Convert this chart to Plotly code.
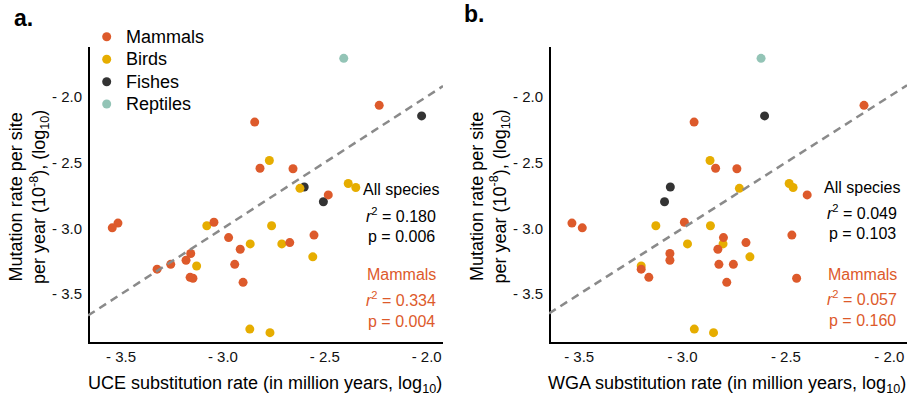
import plotly.graph_objects as go

# ---- data: log10 mutation rate per site per year and log10 substitution rates ----
mammal_mu = [-2.066, -2.193, -2.544, -2.547, -2.746, -2.954, -2.960, -2.996, -3.051, -3.070,
             -3.108, -3.159, -3.191, -3.242, -3.273, -3.273, -3.310, -3.372, -3.379, -3.410]
mammal_uce = [-2.233, -2.844, -2.818, -2.656, -2.483, -3.044, -3.515, -3.543, -2.553, -2.972,
              -2.672, -2.915, -3.158, -3.181, -3.256, -2.942, -3.323, -3.161, -3.147, -2.901]
mammal_wga = [-2.122, -2.944, -2.840, -2.737, -2.397, -2.991, -3.535, -3.485, -2.471, -2.802,
              -2.693, -2.829, -3.061, -3.061, -2.824, -2.754, -3.200, -3.163, -2.448, -2.786]

bird_mu = [-2.485, -2.696, -2.659, -2.690, -2.980, -2.980, -3.118, -3.118, -3.286, -3.765, -3.792, -3.216]
bird_uce = [-2.772, -2.622, -2.385, -2.348, -3.079, -2.761, -2.866, -2.711, -3.129, -2.868, -2.769, -2.559]
bird_wga = [-2.867, -2.725, -2.484, -2.465, -3.129, -2.865, -2.976, -2.804, -3.200, -2.943, -2.850, -2.674]

fish_mu = [-2.146, -2.686, -2.798]
fish_uce = [-2.025, -2.601, -2.507]
fish_wga = [-2.603, -3.059, -3.087]

reptile_mu = [-1.709]
reptile_uce = [-2.407]
reptile_wga = [-2.620]

groups = ["Mammals", "Birds", "Fishes", "Reptiles"]

# 1:1 reference line
ref_slope = 1.0
ref_intercept = 0.0

# statistics printed on each panel
stats_all = {"a": ("0.180", "0.006"), "b": ("0.049", "0.103")}
stats_mammals = {"a": ("0.334", "0.004"), "b": ("0.057", "0.160")}

tick_vals = [-3.5, -3.0, -2.5, -2.0]
tick_text = ["- 3.5", "- 3.0", "- 2.5", "- 2.0"]

# ---- styling ----
COLORS = {"Mammals": "#DD5A2B", "Birds": "#E6AD00", "Fishes": "#333333", "Reptiles": "#93C4B6"}
FONT = "Liberation Sans, Arial, sans-serif"
W, H = 914, 406
M_T, M_B = 47, 62
PLOT_H = H - M_T - M_B


def px_x(px):
    return px / W


def px_y(py):
    return (H - M_B - py) / PLOT_H


series = {
    "Mammals": (mammal_mu, mammal_uce, mammal_wga),
    "Birds": (bird_mu, bird_uce, bird_wga),
    "Fishes": (fish_mu, fish_uce, fish_wga),
    "Reptiles": (reptile_mu, reptile_uce, reptile_wga),
}
draw_order = ["Fishes", "Reptiles", "Birds", "Mammals"]

x_range_a = [-3.662, -1.920]
x_range_b = [-3.646, -1.914]
y_range = [-3.878, -1.623]

fig = go.Figure()

for panel, (xa, ya, xr) in {"a": ("x", "y", x_range_a), "b": ("x2", "y2", x_range_b)}.items():
    # L-shaped axis frame along the left and bottom edges (half of the stroke is clipped)
    fig.add_trace(go.Scatter(
        x=[xr[0], xr[0], xr[1]], y=[y_range[1], y_range[0], y_range[0]], mode="lines",
        line=dict(color="black", width=4), xaxis=xa, yaxis=ya,
        showlegend=False, hoverinfo="skip",
    ))
    for g in draw_order:
        mu, uce, wga = series[g]
        fig.add_trace(go.Scatter(
            x=uce if panel == "a" else wga, y=mu, mode="markers", name=g,
            marker=dict(size=9, color=COLORS[g], line=dict(width=0)),
            xaxis=xa, yaxis=ya, showlegend=False, cliponaxis=False,
        ))
    fig.add_trace(go.Scatter(
        x=xr, y=[ref_slope * v + ref_intercept for v in xr], mode="lines",
        line=dict(color="#8a8a8a", width=2.5, dash="8px,5.5px"),
        xaxis=xa, yaxis=ya, showlegend=False, hoverinfo="skip",
    ))

axis_common = dict(
    showline=False, showgrid=False, zeroline=False,
    ticks="", tickvals=tick_vals, ticktext=tick_text,
    tickfont=dict(family=FONT, size=15, color="#111111"),
)

fig.update_layout(
    width=W, height=H,
    margin=dict(l=0, r=0, t=M_T, b=M_B),
    paper_bgcolor="white", plot_bgcolor="white",
    font=dict(family=FONT, color="black"),
    showlegend=False,
    xaxis=dict(domain=[px_x(88), px_x(443)], range=x_range_a, anchor="y", ticklabelstandoff=2, **axis_common),
    yaxis=dict(domain=[0, 1], range=y_range, anchor="x", ticklabelstandoff=5, **axis_common),
    xaxis2=dict(domain=[px_x(549), px_x(907)], range=x_range_b, anchor="y2", ticklabelstandoff=2, **axis_common),
    yaxis2=dict(domain=[0, 1], range=y_range, anchor="x2", ticklabelstandoff=5, **axis_common),
)

annotations = []
shapes = []

# panel letters
annotations.append(dict(text="<b>a.</b>", x=px_x(12), y=px_y(18), xanchor="left", yanchor="middle",
                        xref="paper", yref="paper", showarrow=False, font=dict(size=23, family=FONT)))
annotations.append(dict(text="<b>b.</b>", x=px_x(462), y=px_y(14), xanchor="left", yanchor="middle",
                        xref="paper", yref="paper", showarrow=False, font=dict(size=23, family=FONT)))

# legend
legend_rows = [36.7, 59.3, 81.7, 104.0]
for g, row in zip(groups, legend_rows):
    shapes.append(dict(type="circle", xref="paper", yref="paper", xsizemode="pixel", ysizemode="pixel",
                       xanchor=px_x(106.7), yanchor=px_y(row), x0=-4.5, x1=4.5, y0=-4.5, y1=4.5,
                       fillcolor=COLORS[g], line=dict(width=0)))
    annotations.append(dict(text=g, x=px_x(124), y=px_y(row), xanchor="left", yanchor="middle",
                            xref="paper", yref="paper", showarrow=False, font=dict(size=18, family=FONT)))

# axis titles
for cx, label in [(265, "UCE"), (727, "WGA")]:
    annotations.append(dict(text=f"{label} substitution rate (in million years, log<sub>10</sub>)",
                            x=px_x(cx), y=px_y(384), xanchor="center", yanchor="middle",
                            xref="paper", yref="paper", showarrow=False, font=dict(size=18, family=FONT)))
for cx in [29, 489.5]:
    annotations.append(dict(text="Mutation rate per site<br>per year (10<sup>-8</sup>), (log<sub>10</sub>)",
                            x=px_x(cx), y=px_y(197), xanchor="center", yanchor="middle", textangle=-90,
                            xref="paper", yref="paper", showarrow=False, font=dict(size=18, family=FONT)))

# statistics text
stat_pos = {"a": (401, [189, 215, 236, 274, 299, 321]), "b": (862, [188, 212, 233, 274, 298, 320])}
for panel, (cx, rows) in stat_pos.items():
    r2a, pa = stats_all[panel]
    r2m, pm = stats_mammals[panel]
    lines = [
        ("All species", "black"),
        (f"<i>r</i><sup>2</sup> = {r2a}", "black"),
        (f"p = {pa}", "black"),
        ("Mammals", COLORS["Mammals"]),
        (f"<i>r</i><sup>2</sup> = {r2m}", COLORS["Mammals"]),
        (f"p = {pm}", COLORS["Mammals"]),
    ]
    for (txt, col), ry in zip(lines, rows):
        annotations.append(dict(text=txt, x=px_x(cx), y=px_y(ry), xanchor="center", yanchor="middle",
                                xref="paper", yref="paper", showarrow=False,
                                font=dict(size=16, family=FONT, color=col)))

fig.update_layout(annotations=annotations, shapes=shapes)

fig.write_html("out.html")
